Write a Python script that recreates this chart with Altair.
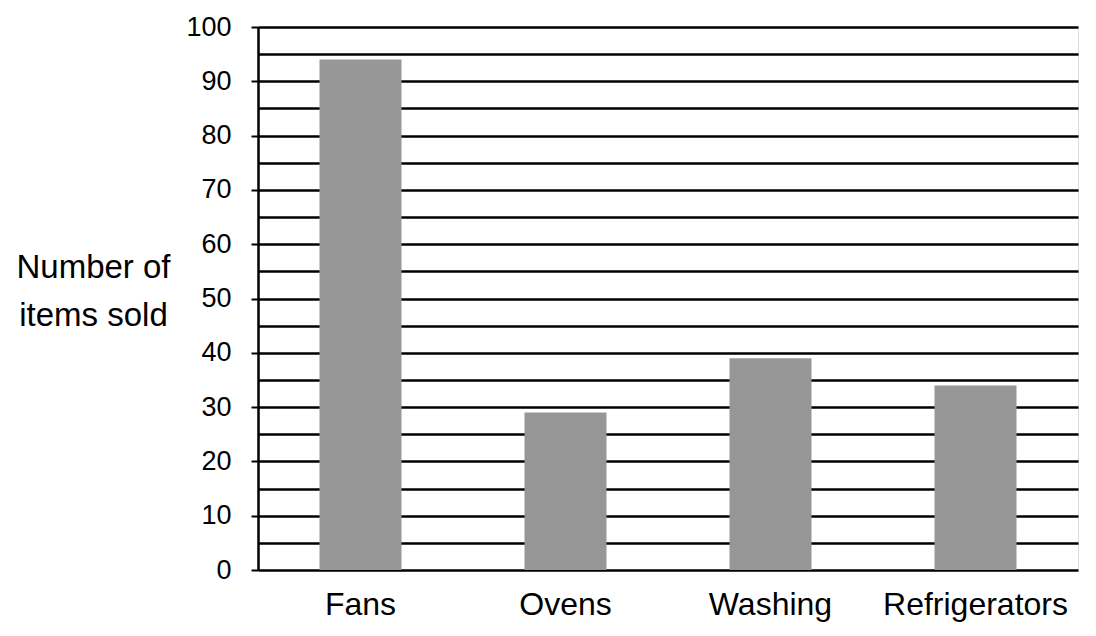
import altair as alt
import pandas as pd

categories = ["Fans", "Ovens", "Washing", "Refrigerators"]
items_sold = [94, 29, 39, 34]
grid_values = list(range(0, 101, 5))

df = pd.DataFrame({"item": categories, "sold": items_sold})

chart = alt.Chart(df).mark_bar(color="#979797").encode(
    x=alt.X(
        "item:N",
        sort=categories,
        scale=alt.Scale(paddingInner=0.6, paddingOuter=0.3),
        axis=alt.Axis(
            title=None,
            labelAngle=0,
            ticks=False,
            domain=False,
            labelFont="Liberation Sans",
            labelFontSize=32,
            labelColor="black",
            labelPadding=19,
            labelLimit=0,
        ),
    ),
    y=alt.Y(
        "sold:Q",
        scale=alt.Scale(domain=[0, 100], nice=False),
        axis=alt.Axis(
            values=grid_values,
            labelExpr="datum.value % 10 == 0 ? datum.label : ''",
            tickOpacity=alt.expr("datum.value % 10 == 0 ? 1 : 0"),
            tickSize=7,
            tickWidth=2,
            tickColor="black",
            grid=True,
            gridColor="black",
            gridWidth=2.5,
            gridOpacity=1,
            domainColor="black",
            domainWidth=2.5,
            labelFont="Liberation Sans",
            labelFontSize=27,
            labelColor="black",
            labelPadding=20,
            title=["Number of", "items sold"],
            titleAngle=0,
            titleAlign="center",
            titleBaseline="alphabetic",
            titleX=-165,
            titleY=250,
            titleFont="Liberation Sans",
            titleFontSize=33,
            titleFontWeight="normal",
            titleColor="black",
            titleLineHeight=48,
        ),
    ),
).properties(
    width=820,
    height=543,
    autosize=alt.AutoSizeParams(type="none"),
    padding={"left": 250, "top": 19, "right": 10, "bottom": 58},
).configure_view(
    stroke="black", strokeWidth=2.5
).configure(background="white")

chart.save("out.html", embed_options={"renderer": "svg", "actions": False})
